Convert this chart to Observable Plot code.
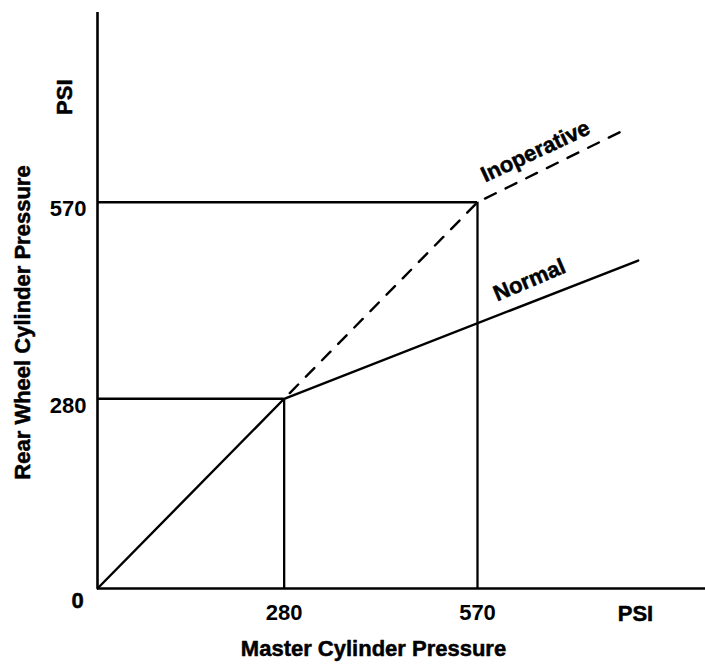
<!DOCTYPE html>
<html>
<head>
<meta charset="utf-8">
<script src="https://cdn.jsdelivr.net/npm/d3@7"></script>
<script src="https://cdn.jsdelivr.net/npm/@observablehq/plot@0.6"></script>
<style>
  html, body { margin: 0; padding: 0; background: #fff; }
  #chart svg { display: block; }
</style>
</head>
<body>
<div id="chart"></div>
<script>
// Master cylinder pressure (x) vs rear wheel cylinder pressure (y), PSI
const normalX = [0, 280, 811];
const normalY = [0, 280, 484];
const inoperativeX = [280, 570, 795];
const inoperativeY = [280, 570, 679];
const splitPoints = [280, 570];          // proportioning valve reference points
const tickValues = [280, 570];
const unitLabel = "PSI";
const seriesLabels = ["Normal", "Inoperative"];
const xTitle = "Master Cylinder Pressure";
const yTitle = "Rear Wheel Cylinder Pressure";

const normal = normalX.map((x, i) => ({x, y: normalY[i]}));
const inoperative = inoperativeX.map((x, i) => ({x, y: inoperativeY[i]}));

const font = {fontFamily: "Liberation Sans, Arial, Helvetica, sans-serif", fontWeight: "bold", fontSize: 22, fill: "#000", stroke: "#000", strokeWidth: 0.5};

const chart = Plot.plot({
  width: 705,
  height: 666,
  marginLeft: 97,
  marginRight: 0,
  marginTop: 12,
  marginBottom: 78,
  x: {domain: [0, 912]},
  y: {domain: [0, 850]},
  style: {fontFamily: "Liberation Sans, Arial, sans-serif", fontSize: "22px", fontWeight: "bold", color: "#000", background: "#fff"},
  marks: [
    // guide rectangles
    Plot.ruleY(splitPoints, {y: d => d, x1: 0, x2: d => d, stroke: "#000", strokeWidth: 2.3}),
    Plot.ruleX(splitPoints, {x: d => d, y1: 0, y2: d => d, stroke: "#000", strokeWidth: 2.3}),
    // curves
    Plot.line(normal, {x: "x", y: "y", stroke: "#000", strokeWidth: 2.4}),
    Plot.line(inoperative, {x: "x", y: "y", stroke: "#000", strokeWidth: 2.4, strokeDasharray: "12,11", strokeDashoffset: -8}),
    // axes lines
    Plot.ruleX([0], {stroke: "#000", strokeWidth: 2.6}),
    Plot.ruleY([0], {stroke: "#000", strokeWidth: 2.6}),
    // tick labels
    Plot.axisX({ticks: tickValues, tickSize: 0, tickPadding: 16, label: null, ...font}),
    Plot.axisY({ticks: tickValues, tickSize: 0, tickPadding: 11, dy: 7, label: null, ...font}),
    Plot.text(["0"], {x: 0, y: 0, dx: -20, dy: 12, ...font}),
    Plot.text([unitLabel], {x: 807, y: 0, dy: 25, ...font}),
    Plot.text([unitLabel], {x: 0, y: 725, dx: -33, rotate: -90, ...font}),
    // series labels
    Plot.text([seriesLabels[0]], {x: 648, y: 455, rotate: -23, ...font}),
    Plot.text([seriesLabels[1]], {x: 657, y: 645, rotate: -25, ...font}),
    // axis titles
    Plot.text([xTitle], {frameAnchor: "bottom", textAnchor: "middle", dx: -28, dy: 67, ...font}),
    Plot.text([yTitle], {frameAnchor: "left", textAnchor: "middle", dx: -75, dy: 22, rotate: -90, ...font})
  ]
});
document.getElementById("chart").appendChild(chart);
</script>
</body>
</html>
